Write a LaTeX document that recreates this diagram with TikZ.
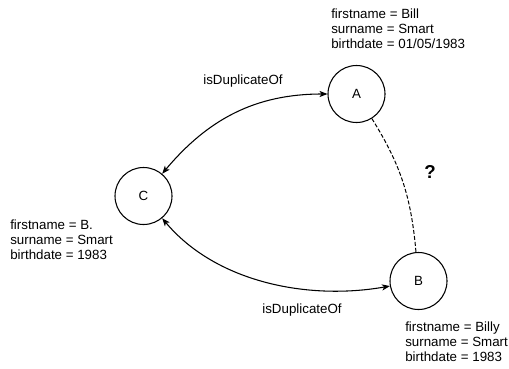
\documentclass[tikz,border=0pt]{standalone}
\usepackage{fontspec}
\setmainfont{Liberation Sans}
\usetikzlibrary{arrows.meta}
\begin{document}
\begin{tikzpicture}[x=0.75pt,y=-0.75pt,
  every node/.style={font=\fontsize{10}{11.25}\selectfont},
  entity/.style={circle,draw,line width=0.8pt,minimum size=57*0.75pt,inner sep=0pt},
  attrs/.style={align=left,anchor=north west,inner sep=0pt},
  edgelabel/.style={inner sep=0pt},
  rel/.style={line width=0.8pt,{Stealth[length=6pt,width=4.6pt,inset=1.6pt]}-{Stealth[length=6pt,width=4.6pt,inset=1.6pt]}},
  maybe/.style={line width=0.75pt,dash pattern=on 3pt off 1.5pt}]
\useasboundingbox (0,0) rectangle (509,368);

% records
\node[entity] (A) at (356.5,94) {A};
\node[entity] (C) at (143.5,196) {C};
\node[entity] (B) at (418.5,281) {B};

% attributes of each record
\node[attrs] (tA) at (331,9) {firstname = Bill\\surname = Smart\\birthdate = 01/05/1983};
\node[attrs] (tC) at (10,220) {firstname = B.\\surname = Smart\\birthdate = 1983};
\node[attrs] (tB) at (405,322) {firstname = Billy\\surname = Smart\\birthdate = 1983};

% duplicate links
\draw[rel] (C) to[out=50,in=180] (A);
\draw[rel] (C) to[out=-50,in=190,looseness=0.9] (B);
\node[edgelabel] (l1) at (243,81) {isDuplicateOf};
\node[edgelabel] (l2) at (302,310) {isDuplicateOf};

% uncertain link
\draw[maybe] (A) to[out=-58,in=95] (B);
\node[inner sep=0pt,font=\fontsize{14}{16}\selectfont\bfseries] (q) at (430,172) {?};
\end{tikzpicture}
\end{document}
